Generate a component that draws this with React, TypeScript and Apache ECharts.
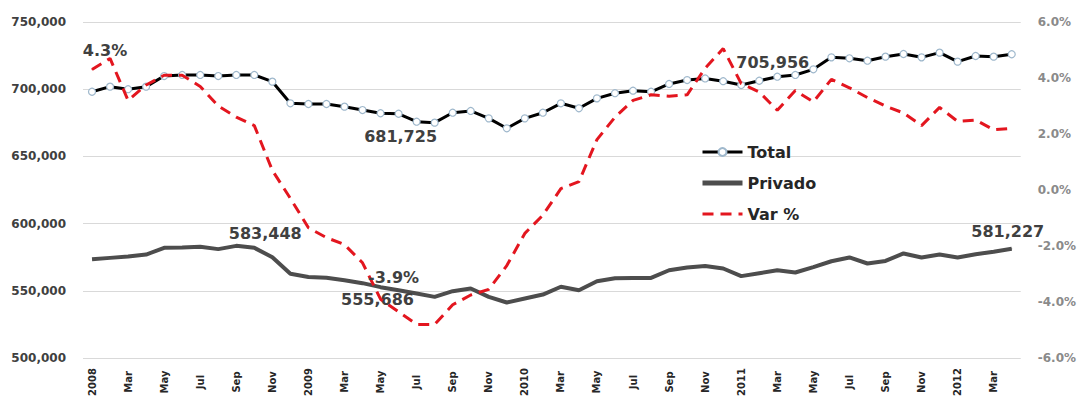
import React, { useEffect, useRef } from "react";
import * as echarts from "echarts";

const categories = [
  "2008", "Feb", "Mar", "Apr", "May", "Jun", "Jul", "Aug", "Sep", "Oct", "Nov", "Dec",
  "2009", "Feb", "Mar", "Apr", "May", "Jun", "Jul", "Aug", "Sep", "Oct", "Nov", "Dec",
  "2010", "Feb", "Mar", "Apr", "May", "Jun", "Jul", "Aug", "Sep", "Oct", "Nov", "Dec",
  "2011", "Feb", "Mar", "Apr", "May", "Jun", "Jul", "Aug", "Sep", "Oct", "Nov", "Dec",
  "2012", "Feb", "Mar", "Apr",
];

const totalEmpleo = [
  698100, 701900, 700000, 701900, 709800, 710600, 710600, 709800, 710600, 710600,
  705600, 689500, 689000, 689000, 687000, 684500, 682100, 681725, 675800, 675100,
  682500, 683800, 678300, 670900, 678300, 682500, 689500, 685800, 693200, 697000,
  698900, 698100, 703900, 706800, 708000, 705956, 703100, 706300, 709300, 710600,
  714800, 723700, 723000, 721200, 724200, 726200, 723700, 727200, 720500, 724700,
  724200, 726000,
];

const privadoEmpleo = [
  573500, 574500, 575500, 577000, 582000, 582300, 582700, 581000, 583448, 582000,
  575000, 562700, 560300, 559700, 557900, 555686, 552700, 550400, 548000, 545500,
  549700, 551700, 545500, 541300, 544300, 547200, 553000, 550400, 557100, 559400,
  559600, 559600, 565300, 567300, 568500, 566600, 560900, 563100, 565300, 563600,
  567600, 572000, 574800, 570300, 572200, 577800, 574800, 577000, 574800, 577200,
  579100, 581227,
];

const varPct = [
  4.3, 4.7, 3.2, 3.75, 4.1, 4.1, 3.7, 3.0, 2.6, 2.3,
  0.7, -0.3, -1.35, -1.7, -1.95, -2.6, -3.9, -4.35, -4.8, -4.8,
  -4.1, -3.75, -3.55, -2.7, -1.55, -0.9, 0.05, 0.3, 1.8, 2.6,
  3.2, 3.4, 3.35, 3.4, 4.35, 5.05, 3.8, 3.5, 2.85, 3.55,
  3.15, 3.95, 3.65, 3.3, 3.0, 2.75, 2.3, 2.95, 2.45, 2.5,
  2.15, 2.2,
];

const FONT = "'DejaVu Sans', sans-serif";
const fmtThousands = (p: any) => Number(p.value).toLocaleString("en-US");
const fmtPct = (p: any) => Number(p.value).toFixed(1) + "%";

const lbl = (extra: any) => ({
  show: true,
  fontFamily: FONT,
  fontWeight: "bold",
  fontSize: 16,
  color: "#404040",
  ...extra,
});

// label placement for annotated points (index -> label style)
const totalLabels: Record<number, any> = {
  17: { position: "bottom", offset: [2, 6] },
  35: { position: "right", offset: [4, -19] },
};
const privadoLabels: Record<number, any> = {
  8: { position: "top", offset: [29, 1] },
  15: { position: "bottom", offset: [15, 3] },
  51: { position: "top", offset: [-4, -4] },
};
const varLabels: Record<number, any> = {
  0: { position: "top", offset: [13, -6] },
  16: { position: "top", offset: [13, -8] },
};

export default function App() {
  const ref = useRef<HTMLDivElement>(null);

  useEffect(() => {
    if (!ref.current) return;
    const chart = echarts.init(ref.current, null, { renderer: "svg" });

    const totalData = totalEmpleo.map((v, i) =>
      totalLabels[i]
        ? { value: v, label: lbl({ ...totalLabels[i], formatter: fmtThousands }) }
        : v
    );
    const privadoData = privadoEmpleo.map((v, i) =>
      privadoLabels[i]
        ? {
            value: v,
            symbol: "circle",
            symbolSize: 1,
            itemStyle: { color: "#4d4d4d" },
            label: lbl({ ...privadoLabels[i], formatter: fmtThousands }),
          }
        : v
    );
    const varData = varPct.map((v, i) =>
      varLabels[i]
        ? {
            value: v,
            symbol: "circle",
            symbolSize: 1,
            itemStyle: { color: "#e3161f" },
            label: lbl({ ...varLabels[i], formatter: fmtPct }),
          }
        : v
    );

    chart.setOption({
      animation: false,
      backgroundColor: "#ffffff",
      grid: { left: 83, right: 54, top: 22, bottom: 41, containLabel: false },
      legend: {
        data: [
          { name: "Total", lineStyle: { width: 3, color: "#000000" } },
          { name: "Privado", itemStyle: { opacity: 0 }, lineStyle: { width: 5, color: "#4d4d4d" } },
          { name: "Var %", itemStyle: { opacity: 0 }, lineStyle: { width: 3, color: "#e3161f", type: [11, 7] } },
        ],
        orient: "vertical",
        left: 700,
        top: 143,
        itemWidth: 40,
        itemHeight: 10,
        itemGap: 13,
        padding: 0,
        textStyle: {
          fontFamily: FONT,
          fontWeight: "bold",
          fontSize: 16,
          color: "#262626",
          lineHeight: 18,
        },
      },
      xAxis: {
        type: "category",
        data: categories,
        boundaryGap: true,
        axisLine: { show: false },
        axisTick: { show: false },
        axisLabel: {
          interval: 1,
          rotate: 90,
          align: "center",
          margin: 24,
          fontFamily: FONT,
          fontSize: 10,
          fontWeight: "bold",
          color: "#262626",
        },
      },
      yAxis: [
        {
          type: "value",
          min: 500000,
          max: 750000,
          interval: 50000,
          axisLine: { show: false },
          axisTick: { show: false },
          splitLine: { show: true, lineStyle: { color: "#d9d9d9", width: 1 } },
          axisLabel: {
            formatter: (v: number) => v.toLocaleString("en-US"),
            fontFamily: FONT,
            fontSize: 12,
            fontWeight: "bold",
            color: "#404040",
            margin: 17,
          },
        },
        {
          type: "value",
          position: "right",
          min: -6,
          max: 6,
          interval: 2,
          axisLine: { show: false },
          axisTick: { show: false },
          splitLine: { show: false },
          axisLabel: {
            formatter: (v: number) => v.toFixed(1) + "%",
            fontFamily: FONT,
            fontSize: 12,
            fontWeight: "bold",
            color: "#8a8a8a",
            margin: 17,
          },
        },
      ],
      series: [
        {
          name: "Privado",
          type: "line",
          yAxisIndex: 0,
          data: privadoData,
          symbol: "none",
          lineStyle: { color: "#4d4d4d", width: 4 },
          itemStyle: { color: "#4d4d4d" },
          z: 2,
        },
        {
          name: "Total",
          type: "line",
          yAxisIndex: 0,
          data: totalData,
          symbol: "circle",
          symbolSize: 7,
          showSymbol: true,
          lineStyle: { color: "#000000", width: 3 },
          itemStyle: { color: "#ffffff", borderColor: "#9fb8cc", borderWidth: 1.2 },
          z: 3,
        },
        {
          name: "Var %",
          type: "line",
          yAxisIndex: 1,
          data: varData,
          symbol: "none",
          lineStyle: { color: "#e3161f", width: 3, type: [11, 7] },
          itemStyle: { color: "#e3161f" },
          z: 4,
        },
      ],
    });

    return () => chart.dispose();
  }, []);

  return (
    <div
      ref={ref}
      style={{ position: "fixed", left: 0, top: 0, width: 1079, height: 399, background: "#fff" }}
    />
  );
}
